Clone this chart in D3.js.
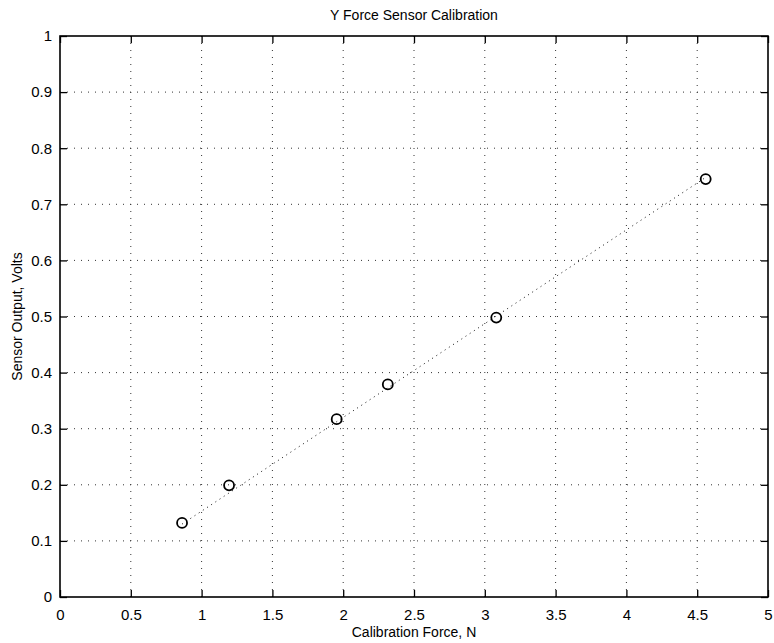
<!DOCTYPE html>
<html><head><meta charset="utf-8">
<script src="https://cdn.jsdelivr.net/npm/d3@7"></script>
<style>body{margin:0;background:#fff}svg{display:block}text{font-family:"Liberation Sans",Arial,sans-serif;fill:#000}</style>
</head><body>
<script>
const forceN = [0.862, 1.194, 1.954, 2.315, 3.081, 4.56];
const outputV = [0.132, 0.199, 0.317, 0.379, 0.498, 0.745];
const fitX = [0.862, 4.56];
const fitY = [0.13, 0.748];
const xTicks = [0, 0.5, 1, 1.5, 2, 2.5, 3, 3.5, 4, 4.5, 5];
const yTicks = [0, 0.1, 0.2, 0.3, 0.4, 0.5, 0.6, 0.7, 0.8, 0.9, 1];
const title = "Y Force Sensor Calibration";
const xLabel = "Calibration Force, N";
const yLabel = "Sensor Output, Volts";

const W = 774, H = 643;
const m = {left: 60, right: 6, top: 36, bottom: 46};
const svg = d3.select("body").append("svg").attr("width", W).attr("height", H);
const x = d3.scaleLinear().domain([0, 5]).range([m.left, W - m.right]);
const y = d3.scaleLinear().domain([0, 1]).range([H - m.bottom, m.top]);
const fmt = d => d3.format("")(d);

// grid
const g = svg.append("g");
g.selectAll(".vg").data(xTicks.slice(1, -1)).join("line")
  .attr("x1", d => x(d)).attr("x2", d => x(d)).attr("y1", y(0)).attr("y2", y(1))
  .attr("stroke", "#333").attr("stroke-width", 1).attr("stroke-dasharray", "1,6");
g.selectAll(".hg").data(yTicks.slice(1, -1)).join("line")
  .attr("y1", d => y(d)).attr("y2", d => y(d)).attr("x1", x(0)).attr("x2", x(5))
  .attr("stroke", "#333").attr("stroke-width", 1).attr("stroke-dasharray", "1,6");

// axes with inward ticks
const tl = 7;
svg.append("g").attr("transform", `translate(0,${y(0)})`)
  .call(d3.axisBottom(x).tickValues(xTicks).tickFormat(fmt).tickSize(-tl).tickPadding(12))
  .call(a => a.select(".domain").remove())
  .call(a => a.selectAll("text").attr("font-size", 15).attr("font-family", "Liberation Sans, Arial, sans-serif"));
svg.append("g").attr("transform", `translate(0,${y(1)})`)
  .call(d3.axisTop(x).tickValues(xTicks).tickFormat("").tickSize(-tl))
  .call(a => a.select(".domain").remove());
svg.append("g").attr("transform", `translate(${x(0)},0)`)
  .call(d3.axisLeft(y).tickValues(yTicks).tickFormat(fmt).tickSize(-tl).tickPadding(8))
  .call(a => a.select(".domain").remove())
  .call(a => a.selectAll("text").attr("font-size", 15).attr("font-family", "Liberation Sans, Arial, sans-serif"));
svg.append("g").attr("transform", `translate(${x(5)},0)`)
  .call(d3.axisRight(y).tickValues(yTicks).tickFormat("").tickSize(-tl))
  .call(a => a.select(".domain").remove());
svg.selectAll(".tick line").attr("stroke", "#000").attr("stroke-width", 1.3);

svg.append("rect").attr("x", x(0)).attr("y", y(1)).attr("width", x(5) - x(0)).attr("height", y(0) - y(1))
  .attr("fill", "none").attr("stroke", "#000").attr("stroke-width", 1.6);

// fit line
svg.append("path").datum(fitX.map((d, i) => [d, fitY[i]]))
  .attr("d", d3.line().x(d => x(d[0])).y(d => y(d[1])))
  .attr("fill", "none").attr("stroke", "#111").attr("stroke-width", 1).attr("stroke-dasharray", "1,4");

// points
svg.selectAll(".pt").data(forceN.map((d, i) => [d, outputV[i]])).join("circle")
  .attr("cx", d => x(d[0])).attr("cy", d => y(d[1])).attr("r", 5)
  .attr("fill", "none").attr("stroke", "#000").attr("stroke-width", 1.8);

// labels
svg.append("text").attr("x", (x(0) + x(5)) / 2).attr("y", 20).attr("text-anchor", "middle")
  .attr("font-size", 14).text(title);
svg.append("text").attr("x", (x(0) + x(5)) / 2).attr("y", 637).attr("text-anchor", "middle")
  .attr("font-size", 14).text(xLabel);
svg.append("text").attr("transform", `translate(22,${(y(0) + y(1)) / 2}) rotate(-90)`)
  .attr("text-anchor", "middle").attr("font-size", 14).text(yLabel);
</script>
</body></html>
